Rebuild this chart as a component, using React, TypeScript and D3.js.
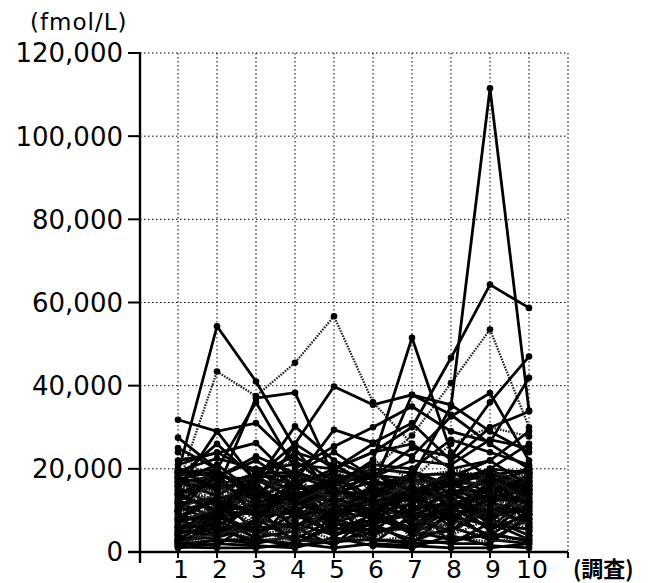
import React from 'react';
import * as d3 from 'd3';

// survey rounds 1..10, values in fmol/L
const rounds = [1, 2, 3, 4, 5, 6, 7, 8, 9, 10];
const yTicks = [0, 20000, 40000, 60000, 80000, 100000, 120000];

// the few lines that stand out above the crowd
const highSeries = [
  [17000, 21000, 14000, 12000, 9000, 13000, 18000, 35000, 111500, 34000],
  [12000, 18000, 22000, 16000, 20000, 24000, 30000, 46700, 64300, 58700],
  [19000, 54300, 41000, 25000, 13000, 10000, 14000, 18000, 22000, 16000],
  [14000, 10000, 18000, 26000, 39800, 35400, 37800, 33000, 26000, 20000],
  [31800, 29000, 31000, 22000, 15000, 12000, 14000, 16000, 20000, 26000],
  [20000, 15000, 37000, 38300, 18000, 12000, 8000, 10000, 14000, 12000],
  [10000, 12000, 9000, 14000, 16000, 22000, 51500, 24000, 18000, 14000],
  [27500, 20000, 12000, 26000, 20000, 26000, 23000, 32600, 38200, 22000],
  [15000, 29000, 17000, 30200, 22000, 18000, 25000, 23000, 36000, 47000],
  [25000, 20000, 36000, 20000, 25400, 30000, 35000, 29000, 26400, 41900],
  [22000, 23800, 26200, 17000, 29400, 26300, 31000, 22000, 29900, 33800],
  [18000, 26000, 17300, 24000, 21000, 16000, 37800, 35400, 29000, 24000],
];
const dottedHigh = [
  [16000, 43400, 37500, 45500, 56700, 36000, 26000, 20000, 18000, 12000],
  [9000, 14000, 10000, 12000, 16000, 20000, 28000, 40600, 53500, 30000],
  [24000, 16000, 18000, 22000, 14000, 22200, 17300, 26000, 30000, 27800],
];
const midSeries = [
  [21000, 24000, 19000, 23000, 17000, 21000, 20000, 27000, 24000, 21000],
  [20000, 18000, 23000, 19000, 24000, 18000, 22000, 21000, 27000, 25000],
  [19500, 22500, 20000, 21000, 20000, 24000, 26000, 20000, 22000, 29000],
];
// the dense band under 20,000
const lowSeries = [
  [18500, 19000, 8000, 6000, 12000, 9000, 5000, 14000, 17000, 19500],
  [16000, 12000, 15000, 9000, 5000, 11000, 16000, 8000, 12000, 6000],
  [14000, 17500, 11000, 13000, 18000, 7000, 9000, 12000, 19000, 15000],
  [12000, 8000, 17000, 5000, 9000, 15000, 12000, 18500, 9000, 11000],
  [10500, 14000, 6000, 16000, 11000, 13000, 19000, 7000, 14000, 18000],
  [9000, 6000, 12000, 10000, 15000, 18000, 8000, 11000, 16000, 9000],
  [7500, 10000, 9000, 14000, 7000, 10000, 14000, 16000, 6000, 13000],
  [6000, 15000, 13000, 7000, 17000, 5000, 11000, 9000, 11000, 17000],
  [5000, 4000, 7000, 11000, 4000, 8000, 6000, 13000, 8000, 4000],
  [4000, 9000, 5000, 3000, 8000, 12000, 4000, 5000, 10000, 7000],
  [3000, 2500, 4000, 6000, 3000, 4000, 7000, 3000, 5000, 8000],
  [2000, 5000, 3000, 2000, 6000, 3000, 2500, 6000, 3000, 2000],
  [1500, 3000, 2000, 4000, 2000, 6000, 3000, 2000, 7000, 3000],
  [19000, 16000, 19000, 17000, 19500, 15000, 18000, 19500, 18000, 16000],
  [17500, 19500, 14000, 19000, 16000, 19000, 15000, 17000, 20000, 19000],
  [15500, 11000, 18500, 12000, 14000, 17000, 13000, 10000, 15000, 20500],
  [13000, 18000, 10000, 15000, 10000, 14000, 17500, 15000, 13000, 10000],
  [11000, 7000, 16000, 8000, 13000, 9000, 10000, 17000, 18500, 12000],
  [8500, 13000, 5000, 18000, 6000, 16000, 6000, 12000, 7000, 15000],
  [7000, 11000, 14000, 4000, 10000, 6000, 13000, 4000, 12000, 5000],
  [5500, 8000, 10000, 9000, 12000, 2000, 9000, 8000, 4000, 10000],
  [4500, 6000, 2000, 13000, 5000, 9000, 5000, 10000, 9000, 14000],
  [3500, 12000, 6000, 5000, 14000, 11000, 8000, 6000, 14000, 6000],
  [2500, 1500, 8000, 3000, 2000, 5000, 12000, 2000, 2000, 9000],
  [1000, 2000, 1500, 1000, 3500, 1500, 1000, 4000, 1500, 1000],
  [18000, 14000, 12000, 19500, 8000, 17000, 11000, 13000, 16000, 17500],
  [16500, 18500, 9000, 11000, 18500, 13000, 16000, 11000, 10000, 13000],
  [14500, 9000, 19500, 14000, 12000, 8000, 19500, 16000, 19000, 8000],
  [12500, 16000, 13000, 7000, 16500, 19000, 7000, 18000, 8000, 16000],
  [9500, 5000, 7000, 17000, 9000, 12000, 15000, 7000, 17000, 11000],
  [8000, 12500, 16000, 10000, 4000, 7000, 10000, 14000, 11000, 19000],
  [6500, 7000, 4000, 8000, 11000, 14000, 3000, 9000, 6000, 7000],
  [5000, 10000, 11000, 2000, 7000, 4000, 8000, 5000, 13000, 12000],
  [3000, 3500, 6000, 6000, 1500, 10000, 5000, 3000, 4000, 3000],
  [2000, 7000, 2500, 4000, 9000, 2500, 4000, 7000, 9000, 5000],
  [19500, 18000, 17500, 15000, 17000, 20000, 19000, 16000, 14000, 18500],
  [17000, 15000, 18000, 18500, 15000, 11000, 14000, 19000, 17000, 14000],
  [15000, 19000, 15500, 13000, 19000, 16000, 17000, 12000, 19500, 17000],
  [13500, 10000, 11000, 16500, 13000, 19500, 12000, 15000, 12000, 9000],
  [11500, 13000, 14000, 9000, 17500, 8000, 18000, 11000, 15500, 14000],
  [10000, 17000, 7000, 12000, 6000, 15000, 9000, 18000, 10000, 16500],
  [8000, 4000, 13000, 6000, 10000, 10000, 13000, 6000, 18000, 6000],
  [6000, 9000, 9500, 14500, 8000, 5000, 6000, 13000, 5000, 12000],
  [4000, 11000, 3000, 3000, 13000, 13000, 11000, 4000, 8000, 4000],
  [2500, 6000, 5000, 7000, 4000, 7000, 2000, 10000, 3000, 8000],
  [1200, 1000, 1000, 2000, 1000, 2000, 1500, 1000, 1000, 2000],
  [18800, 17000, 16500, 18000, 18000, 18000, 16500, 17500, 16000, 19000],
  [16800, 13500, 19000, 16000, 14500, 14000, 19000, 14000, 18000, 15000],
  [14000, 16500, 12500, 11500, 19800, 17500, 13500, 19500, 13500, 18000],
  [12000, 11500, 15000, 17500, 11500, 12500, 15500, 9500, 11000, 11500],
  [10000, 19000, 8500, 9500, 15500, 9500, 11500, 16500, 16500, 13500],
  [7800, 8500, 17500, 12500, 7500, 16500, 8500, 12500, 7500, 16000],
  [6200, 12000, 11500, 7500, 12500, 11500, 17000, 7500, 14500, 9500],
  [4800, 5500, 7500, 15500, 5500, 6500, 10500, 11500, 9500, 7500],
  [3200, 7500, 3500, 5000, 9500, 8500, 4500, 8500, 6500, 5500],
  [2200, 4500, 5500, 2500, 3000, 3500, 6500, 3500, 2500, 3500],
  [19200, 19800, 13000, 17000, 18800, 16000, 18500, 18800, 18500, 19800],
  [17800, 16000, 18800, 19200, 16500, 18500, 17500, 16500, 19800, 15500],
  [15800, 14500, 17000, 14500, 13500, 13500, 16000, 18000, 15500, 18800],
  [13800, 18800, 14500, 12500, 17000, 19000, 14500, 13500, 17500, 14500],
  [11800, 12500, 9500, 16000, 12000, 15500, 12500, 17000, 12500, 12500],
  [9800, 15500, 12000, 10500, 14000, 10500, 18000, 11500, 19200, 17000],
  [7200, 9500, 16500, 8500, 10500, 14500, 9500, 14500, 8500, 10500],
  [5800, 6500, 10500, 13500, 6500, 7500, 14000, 8000, 13000, 15000],
  [4200, 3500, 8500, 4500, 11500, 12000, 7500, 6500, 10000, 6500],
  [2800, 8500, 4500, 9000, 4500, 5500, 5500, 11000, 5500, 9000],
  [1800, 2800, 3000, 1500, 2500, 3000, 2000, 2500, 4500, 2500],
];

const W = 649;
const H = 583;

export default function App() {
  const x = d3.scaleLinear().domain([0, 11]).range([139, 568]);
  const y = d3.scaleLinear().domain([0, 120000]).range([552, 53]);
  const line = d3
    .line<number>()
    .x((_, i) => x(rounds[i]))
    .y((d) => y(d));

  const font = '"DejaVu Sans", sans-serif';

  const drawSeries = (
    data: number[][],
    key: string,
    dotted: (i: number) => boolean,
    width: number,
    r: number,
  ) =>
    data.map((s, i) => {
      const dot = dotted(i);
      return (
        <g key={key + i}>
          <path
            d={line(s) || ''}
            fill="none"
            stroke={dot ? '#222' : '#000'}
            strokeWidth={dot ? width * 0.85 : width}
            strokeDasharray={dot ? '1.6,1.2' : undefined}
          />
          {s.map((v, j) => (
            <circle key={j} cx={x(rounds[j])} cy={y(v)} r={r} fill="#000" />
          ))}
        </g>
      );
    });

  return (
    <svg width={W} height={H} style={{ position: 'absolute', left: 0, top: 0, background: '#fff' }}>
      {/* grid */}
      {yTicks.slice(1).map((t) => (
        <line key={'gy' + t} x1={140} x2={568} y1={y(t)} y2={y(t)} stroke="#000" strokeWidth={1} strokeDasharray="1.5,2.5" />
      ))}
      {[...rounds, 11].map((r) => (
        <line key={'gx' + r} x1={x(r)} x2={x(r)} y1={y(120000)} y2={y(0)} stroke="#000" strokeWidth={1} strokeDasharray="1.5,2.5" />
      ))}

      {/* series */}
      {drawSeries(lowSeries, 'l', (i) => i % 3 === 1, 2.8, 3.4)}
      {drawSeries(midSeries, 'm', () => false, 2.7, 3.3)}
      {drawSeries(dottedHigh, 'd', () => true, 2.6, 3.3)}
      {drawSeries(highSeries, 'h', () => false, 2.8, 3.3)}

      {/* axes */}
      <line x1={140} x2={140} y1={y(120000) - 1} y2={563} stroke="#000" strokeWidth={2.4} />
      <line x1={128} x2={568} y1={y(0)} y2={y(0)} stroke="#000" strokeWidth={2.4} />
      {yTicks.map((t) => (
        <g key={'ty' + t}>
          <line x1={128} x2={140} y1={y(t)} y2={y(t)} stroke="#000" strokeWidth={2} />
          <text x={123} y={y(t)} dy="0.36em" textAnchor="end" fontFamily={font} fontSize={26}>
            {d3.format(',')(t)}
          </text>
        </g>
      ))}
      {[...rounds, 11].map((r) => (
        <line key={'tx' + r} x1={x(r)} x2={x(r)} y1={y(0)} y2={y(0) + 6} stroke="#000" strokeWidth={2} />
      ))}
      {rounds.map((r) => (
        <text key={'lx' + r} x={x(r) + 3} y={578} textAnchor="middle" fontFamily={font} fontSize={25}>
          {r}
        </text>
      ))}
      <text x={573} y={577} fontFamily={'"Noto Sans CJK JP", sans-serif'} fontSize={22} fontWeight="bold">
        (調査)
      </text>
      <text x={30} y={30} fontFamily={font} fontSize={23} letterSpacing={1}>
        (fmol/L)
      </text>
    </svg>
  );
}
